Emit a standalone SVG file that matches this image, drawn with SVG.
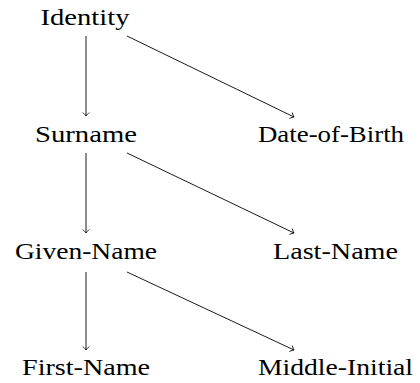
<svg xmlns="http://www.w3.org/2000/svg" width="420" height="383" viewBox="0 0 420 383">
<style>
text{font-family:"Liberation Serif","DejaVu Serif",serif;font-size:24px;fill:#000;text-anchor:middle}
.e{stroke:#000;stroke-width:0.9;fill:none}
</style>
<defs>
<marker id="a" markerUnits="userSpaceOnUse" markerWidth="12" markerHeight="12" viewBox="-6 -6 12 12" refX="0" refY="0" orient="auto" overflow="visible">
<path d="M-3.5,-3.2 Q-1,-0.6 0,0 Q-1,0.6 -3.5,3.2" stroke="#000" stroke-width="0.8" fill="none"/>
</marker>
</defs>
<rect width="420" height="383" fill="#fff"/>
<g id="connectors">
<line class="e" x1="86" y1="36" x2="86" y2="116" marker-end="url(#a)"/>
<line class="e" x1="127" y1="36" x2="294" y2="117" marker-end="url(#a)"/>
<line class="e" x1="86" y1="153" x2="86" y2="233" marker-end="url(#a)"/>
<line class="e" x1="127" y1="153" x2="294" y2="233" marker-end="url(#a)"/>
<line class="e" x1="86" y1="272" x2="86" y2="350" marker-end="url(#a)"/>
<line class="e" x1="127" y1="272" x2="294" y2="350" marker-end="url(#a)"/>
</g>
<g id="identity"><text x="85" y="25" textLength="89" lengthAdjust="spacingAndGlyphs">Identity</text></g>
<g id="surname"><text x="86" y="141.5" textLength="102" lengthAdjust="spacingAndGlyphs">Surname</text></g>
<g id="date-of-birth"><text x="331" y="141.5" textLength="146" lengthAdjust="spacingAndGlyphs">Date-of-Birth</text></g>
<g id="given-name"><text x="86" y="258.5" textLength="142" lengthAdjust="spacingAndGlyphs">Given-Name</text></g>
<g id="last-name"><text x="335.5" y="258.5" textLength="125" lengthAdjust="spacingAndGlyphs">Last-Name</text></g>
<g id="first-name"><text x="86" y="375" textLength="128" lengthAdjust="spacingAndGlyphs">First-Name</text></g>
<g id="middle-initial"><text x="335.5" y="375" textLength="155" lengthAdjust="spacingAndGlyphs">Middle-Initial</text></g>
</svg>
